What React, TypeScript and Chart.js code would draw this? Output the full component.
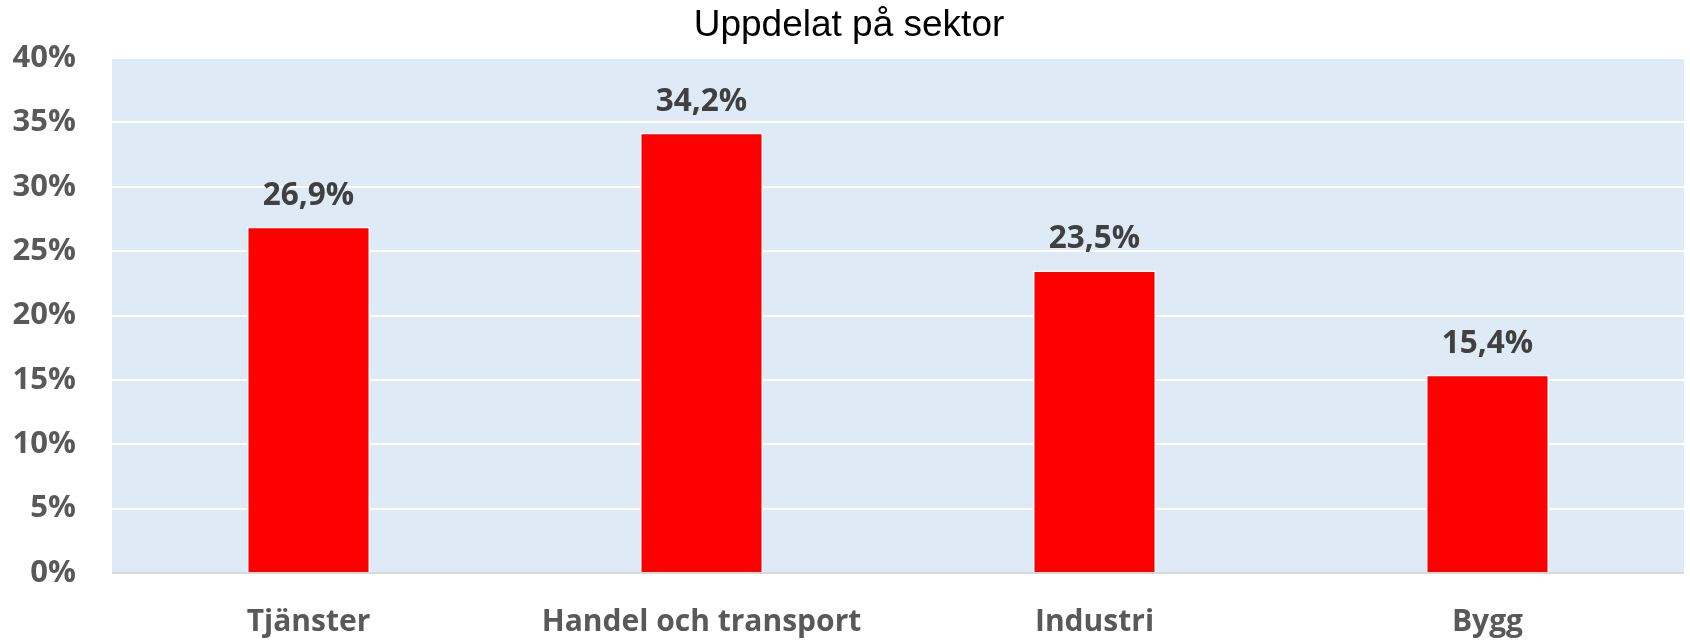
import React, { useEffect, useRef } from "react";
import { Chart, registerables } from "chart.js";

Chart.register(...registerables);

const categories = ["Tjänster", "Handel och transport", "Industri", "Bygg"];
const values = [26.9, 34.2, 23.5, 15.4];
const yMin = 0;
const yMax = 40;
const yStep = 5;
const title = "Uppdelat på sektor";

const plotBg = {
  id: "plotBg",
  beforeDraw(chart: any) {
    const { ctx, chartArea } = chart;
    ctx.save();
    ctx.fillStyle = "#DEEAF6";
    ctx.fillRect(chartArea.left, chartArea.top, chartArea.right - chartArea.left, chartArea.bottom - chartArea.top);
    ctx.restore();
  },
};

const titleText = {
  id: "titleText",
  afterDraw(chart: any) {
    const { ctx } = chart;
    ctx.save();
    ctx.font = "37px 'Liberation Sans', Arial";
    ctx.fillStyle = "#000000";
    ctx.textAlign = "center";
    ctx.textBaseline = "alphabetic";
    ctx.fillText(title, 849, 36);
    ctx.restore();
  },
};

const valueLabels = {
  id: "valueLabels",
  afterDatasetsDraw(chart: any) {
    const { ctx } = chart;
    const meta = chart.getDatasetMeta(0);
    ctx.save();
    ctx.font = "bold 31.5px 'Open Sans'";
    ctx.fillStyle = "#404040";
    ctx.textAlign = "center";
    ctx.textBaseline = "alphabetic";
    meta.data.forEach((bar: any, i: number) => {
      const v = chart.data.datasets[0].data[i] as number;
      ctx.fillText(v.toFixed(1).replace(".", ",") + "%", bar.x, bar.y - 22);
    });
    ctx.restore();
  },
};

export default function App() {
  const ref = useRef<HTMLCanvasElement>(null);
  useEffect(() => {
    document.body.style.margin = "0";
    const chart = new Chart(ref.current!, {
      type: "bar",
      data: {
        labels: categories,
        datasets: [
          {
            data: values,
            backgroundColor: "#FF0000",
            borderColor: "#FFFFFF",
            borderWidth: 1.5,
            categoryPercentage: 1,
            barPercentage: 0.313,
          },
        ],
      },
      plugins: [plotBg, valueLabels, titleText],
      options: {
        animation: false,
        responsive: false,
        layout: { padding: { left: 0, right: 6, top: 58, bottom: 0 } },
        plugins: {
          legend: { display: false },
          tooltip: { enabled: false },
          title: { display: false },
        },
        scales: {
          x: {
            grid: { display: false, drawTicks: false },
            border: { display: false },
            ticks: {
              color: "#595959",
              font: { family: "'Open Sans'", size: 30, weight: "bold" },
              padding: 31,
            },
            afterFit: (s: any) => {
              s.height = 69;
            },
          },
          y: {
            min: yMin,
            max: yMax,
            grid: {
              drawTicks: false,
              lineWidth: 2,
              color: (c: any) => (c.tick && c.tick.value === 0 ? "#D9D9D9" : "#FFFFFF"),
            },
            border: { display: false },
            ticks: {
              stepSize: yStep,
              color: "#595959",
              font: { family: "'Open Sans'", size: 31, weight: "bold" },
              padding: 36,
              callback: (v: any) => v + "%",
            },
            afterFit: (s: any) => {
              s.width = 112;
            },
          },
        },
      },
    });
    return () => chart.destroy();
  }, []);
  return <canvas ref={ref} width={1690} height={642} style={{ display: "block" }} />;
}
